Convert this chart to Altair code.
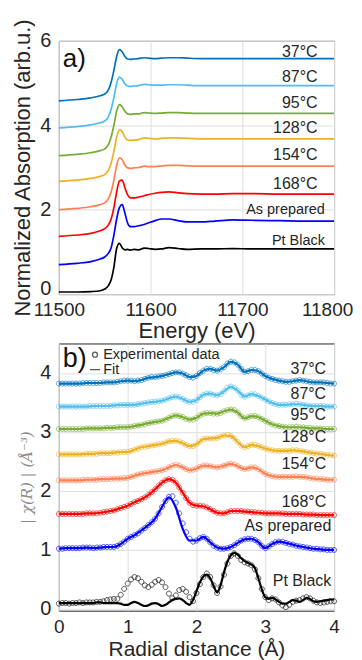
import altair as alt
import pandas as pd

FONT = "Liberation Sans"
INK = "#262626"

series = ["37°C", "87°C", "95°C", "128°C", "154°C", "168°C", "As prepared", "Pt Black"]
colors = ["#0072BD", "#4DBEEE", "#77AC30", "#EDB120", "#FF7F50", "#FF0000", "#0000FF", "#000000"]

# ---------------- panel a : XANES ----------------
energy = [11500, 11520, 11535, 11545, 11550, 11554, 11557, 11560, 11563, 11566,
          11569, 11572, 11575, 11578, 11582, 11587, 11593, 11598, 11605, 11612,
          11620, 11630, 11640, 11655, 11670, 11690, 11710, 11740, 11770, 11800]

xanes_37 = [4.58, 4.61, 4.65, 4.70, 4.74, 4.84, 5.02, 5.30, 5.63, 5.79, 5.74, 5.63, 5.57, 5.56, 5.57,
            5.58, 5.60, 5.59, 5.58, 5.59, 5.60, 5.60, 5.59, 5.58, 5.58, 5.58, 5.58, 5.58, 5.58, 5.58]
xanes_87 = [3.94, 3.97, 4.01, 4.06, 4.10, 4.20, 4.38, 4.66, 4.99, 5.14, 5.09, 4.98, 4.93, 4.92, 4.93,
            4.94, 4.97, 4.96, 4.95, 4.95, 4.96, 4.96, 4.95, 4.94, 4.94, 4.94, 4.94, 4.94, 4.94, 4.94]
xanes_95 = [3.28, 3.31, 3.35, 3.40, 3.44, 3.54, 3.72, 4.00, 4.33, 4.49, 4.44, 4.33, 4.27, 4.26, 4.27,
            4.27, 4.30, 4.29, 4.28, 4.29, 4.30, 4.30, 4.29, 4.28, 4.28, 4.28, 4.28, 4.28, 4.28, 4.28]
xanes_128 = [2.67, 2.70, 2.74, 2.79, 2.83, 2.93, 3.10, 3.38, 3.72, 3.89, 3.85, 3.72, 3.65, 3.64, 3.65,
             3.66, 3.70, 3.69, 3.68, 3.69, 3.70, 3.70, 3.69, 3.68, 3.68, 3.68, 3.68, 3.68, 3.68, 3.68]
xanes_154 = [2.00, 2.03, 2.07, 2.12, 2.16, 2.26, 2.42, 2.70, 3.05, 3.23, 3.19, 3.06, 2.99, 2.98, 2.99,
             3.00, 3.03, 3.02, 3.02, 3.04, 3.05, 3.05, 3.04, 3.03, 3.03, 3.03, 3.03, 3.03, 3.03, 3.03]
xanes_168 = [1.37, 1.40, 1.44, 1.50, 1.55, 1.64, 1.78, 2.05, 2.42, 2.68, 2.70, 2.52, 2.35, 2.28, 2.28,
             2.30, 2.33, 2.36, 2.39, 2.41, 2.42, 2.40, 2.38, 2.37, 2.37, 2.38, 2.38, 2.37, 2.37, 2.37]
xanes_asp = [0.70, 0.73, 0.77, 0.83, 0.88, 0.97, 1.10, 1.40, 1.78, 2.05, 2.12, 1.92, 1.68, 1.60, 1.60,
             1.62, 1.65, 1.69, 1.74, 1.78, 1.78, 1.74, 1.71, 1.71, 1.73, 1.76, 1.75, 1.74, 1.73, 1.73]
xanes_ptb = [0.05, 0.05, 0.06, 0.08, 0.12, 0.20, 0.34, 0.64, 1.08, 1.20, 1.10, 1.05, 1.06, 1.04, 1.06,
             1.05, 1.09, 1.08, 1.06, 1.07, 1.10, 1.08, 1.06, 1.07, 1.07, 1.08, 1.07, 1.07, 1.07, 1.07]

labels_a_y = [5.73, 5.14, 4.53, 3.94, 3.29, 2.61, 1.99, 1.25]
labels_a_x = [11782, 11782, 11782, 11782, 11782, 11782, 11790, 11790]
labels_a_size = [16, 16, 16, 16, 16, 16, 14.5, 14.5]

# ---------------- panel b : |chi(R)| ----------------
r_exp = [round(i * 0.05, 2) for i in range(81)]
r_fit = [round(i * 0.1, 1) for i in range(41)]

exp_37 = [3.82, 3.82, 3.82, 3.82, 3.82, 3.82, 3.82, 3.83, 3.83, 3.83, 3.83, 3.83, 3.83, 3.84, 3.84, 3.84, 3.84,
          3.85, 3.86, 3.87, 3.87, 3.87, 3.86, 3.87, 3.88, 3.90, 3.92, 3.93, 3.93, 3.94, 3.95, 3.96, 3.98, 4.00,
          4.01, 4.01, 3.99, 3.96, 3.93, 3.92, 3.95, 4.00, 4.04, 4.07, 4.07, 4.05, 4.04, 4.06, 4.10, 4.16, 4.19,
          4.18, 4.14, 4.07, 4.02, 4.03, 4.05, 4.05, 4.03, 3.99, 3.95, 3.92, 3.90, 3.88, 3.87, 3.86, 3.85, 3.85,
          3.86, 3.87, 3.88, 3.87, 3.86, 3.85, 3.84, 3.84, 3.84, 3.84, 3.83, 3.82, 3.82]
exp_87 = [3.43, 3.43, 3.43, 3.43, 3.43, 3.43, 3.43, 3.43, 3.43, 3.44, 3.44, 3.44, 3.44, 3.44, 3.44, 3.44, 3.45,
          3.45, 3.46, 3.46, 3.46, 3.46, 3.46, 3.47, 3.48, 3.49, 3.50, 3.51, 3.51, 3.52, 3.53, 3.55, 3.57, 3.59,
          3.60, 3.59, 3.56, 3.53, 3.51, 3.51, 3.54, 3.59, 3.63, 3.65, 3.65, 3.63, 3.62, 3.64, 3.69, 3.75, 3.77,
          3.75, 3.70, 3.63, 3.60, 3.62, 3.64, 3.64, 3.61, 3.58, 3.55, 3.52, 3.49, 3.47, 3.46, 3.46, 3.46, 3.47,
          3.47, 3.48, 3.47, 3.46, 3.45, 3.44, 3.44, 3.44, 3.44, 3.44, 3.43, 3.43, 3.43]
exp_95 = [3.05, 3.05, 3.05, 3.05, 3.05, 3.05, 3.05, 3.05, 3.06, 3.06, 3.06, 3.06, 3.06, 3.06, 3.07, 3.07, 3.07,
          3.08, 3.08, 3.08, 3.08, 3.09, 3.10, 3.11, 3.12, 3.13, 3.15, 3.16, 3.17, 3.18, 3.19, 3.21, 3.24, 3.27,
          3.28, 3.27, 3.25, 3.22, 3.21, 3.21, 3.24, 3.28, 3.31, 3.32, 3.32, 3.31, 3.31, 3.32, 3.35, 3.37, 3.38,
          3.37, 3.33, 3.27, 3.23, 3.25, 3.27, 3.27, 3.25, 3.22, 3.19, 3.16, 3.13, 3.11, 3.10, 3.09, 3.08, 3.08,
          3.08, 3.09, 3.08, 3.08, 3.07, 3.07, 3.06, 3.06, 3.06, 3.05, 3.05, 3.05, 3.05]
exp_128 = [2.62, 2.62, 2.62, 2.62, 2.62, 2.62, 2.62, 2.62, 2.63, 2.63, 2.63, 2.63, 2.64, 2.64, 2.64, 2.64, 2.65,
           2.65, 2.66, 2.66, 2.66, 2.68, 2.70, 2.72, 2.74, 2.75, 2.76, 2.77, 2.78, 2.79, 2.80, 2.82, 2.84, 2.85,
           2.85, 2.84, 2.81, 2.78, 2.76, 2.76, 2.79, 2.84, 2.88, 2.89, 2.89, 2.89, 2.90, 2.92, 2.94, 2.95, 2.93,
           2.89, 2.83, 2.77, 2.74, 2.76, 2.78, 2.78, 2.76, 2.74, 2.72, 2.70, 2.69, 2.68, 2.68, 2.68, 2.68, 2.68,
           2.69, 2.69, 2.68, 2.67, 2.66, 2.65, 2.64, 2.63, 2.63, 2.62, 2.61, 2.61, 2.60]
exp_154 = [2.18, 2.18, 2.18, 2.18, 2.18, 2.18, 2.18, 2.19, 2.19, 2.19, 2.19, 2.19, 2.20, 2.20, 2.20, 2.20, 2.21,
           2.21, 2.21, 2.22, 2.22, 2.24, 2.26, 2.28, 2.29, 2.30, 2.31, 2.32, 2.33, 2.34, 2.35, 2.37, 2.40, 2.43,
           2.44, 2.43, 2.40, 2.37, 2.35, 2.36, 2.38, 2.41, 2.43, 2.43, 2.42, 2.41, 2.40, 2.41, 2.43, 2.45, 2.46,
           2.45, 2.42, 2.39, 2.37, 2.38, 2.40, 2.40, 2.37, 2.33, 2.29, 2.27, 2.25, 2.24, 2.24, 2.24, 2.24, 2.24,
           2.24, 2.25, 2.24, 2.24, 2.23, 2.22, 2.21, 2.21, 2.20, 2.20, 2.19, 2.19, 2.19]
exp_168 = [1.61, 1.61, 1.61, 1.61, 1.61, 1.61, 1.61, 1.61, 1.62, 1.62, 1.62, 1.62, 1.63, 1.64, 1.65, 1.66, 1.67,
           1.69, 1.71, 1.73, 1.75, 1.78, 1.81, 1.83, 1.86, 1.89, 1.93, 1.98, 2.03, 2.09, 2.14, 2.18, 2.20, 2.19,
           2.14, 2.06, 1.97, 1.88, 1.80, 1.76, 1.75, 1.75, 1.74, 1.72, 1.69, 1.66, 1.63, 1.62, 1.62, 1.64, 1.66,
           1.66, 1.66, 1.66, 1.65, 1.65, 1.64, 1.64, 1.63, 1.63, 1.62, 1.62, 1.62, 1.62, 1.62, 1.62, 1.61, 1.61,
           1.61, 1.61, 1.61, 1.60, 1.60, 1.60, 1.60, 1.59, 1.59, 1.59, 1.59, 1.59, 1.59]
exp_asp = [1.02, 1.02, 1.03, 1.03, 1.03, 1.03, 1.03, 1.04, 1.04, 1.04, 1.03, 1.04, 1.04, 1.05, 1.05, 1.05, 1.05,
           1.07, 1.10, 1.14, 1.19, 1.22, 1.25, 1.28, 1.33, 1.37, 1.42, 1.47, 1.53, 1.62, 1.73, 1.83, 1.90, 1.91,
           1.80, 1.62, 1.45, 1.30, 1.19, 1.14, 1.16, 1.20, 1.22, 1.19, 1.13, 1.07, 1.04, 1.02, 1.02, 1.03, 1.05,
           1.08, 1.12, 1.16, 1.18, 1.19, 1.19, 1.17, 1.13, 1.07, 1.03, 1.06, 1.10, 1.13, 1.14, 1.14, 1.12, 1.10,
           1.09, 1.07, 1.06, 1.05, 1.04, 1.03, 1.02, 1.02, 1.01, 1.01, 1.00, 1.00, 1.00]
exp_ptb = [0.09, 0.10, 0.10, 0.09, 0.10, 0.10, 0.11, 0.10, 0.11, 0.11, 0.11, 0.12, 0.12, 0.13, 0.15, 0.16, 0.17,
           0.17, 0.24, 0.34, 0.43, 0.50, 0.54, 0.52, 0.46, 0.40, 0.37, 0.41, 0.46, 0.49, 0.45, 0.37, 0.26, 0.18,
           0.23, 0.32, 0.34, 0.29, 0.20, 0.13, 0.27, 0.42, 0.54, 0.60, 0.54, 0.40, 0.27, 0.38, 0.58, 0.77, 0.90,
           0.94, 0.90, 0.83, 0.79, 0.77, 0.74, 0.67, 0.52, 0.34, 0.20, 0.15, 0.18, 0.16, 0.11, 0.06, 0.03, 0.07,
           0.12, 0.14, 0.15, 0.18, 0.20, 0.18, 0.14, 0.11, 0.10, 0.11, 0.12, 0.13, 0.13]

fit_37 = [3.82, 3.82, 3.82, 3.82, 3.83, 3.83, 3.83, 3.84, 3.84, 3.86, 3.87, 3.86, 3.88, 3.92, 3.93, 3.95, 3.98,
          4.01, 3.99, 3.93, 3.95, 4.04, 4.07, 4.04, 4.10, 4.19, 4.14, 4.02, 4.05, 4.03, 3.95, 3.90, 3.87, 3.85,
          3.86, 3.88, 3.86, 3.84, 3.84, 3.83, 3.82]
fit_87 = [3.43, 3.43, 3.43, 3.43, 3.43, 3.44, 3.44, 3.44, 3.45, 3.46, 3.46, 3.46, 3.48, 3.50, 3.51, 3.53, 3.57,
          3.60, 3.56, 3.51, 3.54, 3.63, 3.65, 3.62, 3.69, 3.77, 3.70, 3.60, 3.64, 3.61, 3.55, 3.49, 3.46, 3.46,
          3.47, 3.47, 3.45, 3.44, 3.44, 3.43, 3.43]
fit_95 = [3.05, 3.05, 3.05, 3.05, 3.06, 3.06, 3.06, 3.07, 3.07, 3.08, 3.08, 3.10, 3.12, 3.15, 3.17, 3.19, 3.24,
          3.28, 3.25, 3.21, 3.24, 3.31, 3.32, 3.31, 3.35, 3.38, 3.33, 3.23, 3.27, 3.25, 3.19, 3.13, 3.10, 3.08,
          3.08, 3.08, 3.07, 3.06, 3.06, 3.05, 3.05]
fit_128 = [2.62, 2.62, 2.62, 2.62, 2.63, 2.63, 2.64, 2.64, 2.65, 2.66, 2.66, 2.70, 2.74, 2.76, 2.78, 2.80, 2.84,
           2.85, 2.81, 2.76, 2.79, 2.88, 2.89, 2.90, 2.94, 2.93, 2.83, 2.74, 2.78, 2.76, 2.72, 2.69, 2.68, 2.68,
           2.69, 2.68, 2.66, 2.64, 2.63, 2.61, 2.60]
fit_154 = [2.18, 2.18, 2.18, 2.18, 2.19, 2.19, 2.20, 2.20, 2.21, 2.21, 2.22, 2.26, 2.29, 2.31, 2.33, 2.35, 2.40,
           2.44, 2.40, 2.35, 2.38, 2.43, 2.42, 2.40, 2.43, 2.46, 2.42, 2.37, 2.40, 2.37, 2.29, 2.25, 2.24, 2.24,
           2.24, 2.24, 2.23, 2.21, 2.20, 2.19, 2.19]
fit_168 = [1.61, 1.61, 1.61, 1.61, 1.62, 1.62, 1.63, 1.65, 1.67, 1.71, 1.75, 1.81, 1.86, 1.93, 2.03, 2.14, 2.20,
           2.14, 1.97, 1.80, 1.75, 1.74, 1.69, 1.63, 1.62, 1.66, 1.66, 1.65, 1.64, 1.63, 1.62, 1.62, 1.62, 1.61,
           1.61, 1.61, 1.60, 1.60, 1.59, 1.59, 1.59]
fit_asp = [1.02, 1.03, 1.03, 1.03, 1.04, 1.03, 1.04, 1.05, 1.05, 1.10, 1.19, 1.25, 1.33, 1.42, 1.53, 1.73, 1.89,
           1.72, 1.36, 1.16, 1.16, 1.22, 1.13, 1.04, 1.02, 1.05, 1.12, 1.18, 1.19, 1.13, 1.03, 1.10, 1.14, 1.12,
           1.09, 1.06, 1.04, 1.02, 1.01, 1.00, 1.00]
fit_ptb = [0.10, 0.10, 0.10, 0.10, 0.10, 0.10, 0.10, 0.10, 0.10, 0.10, 0.10, 0.11, 0.11, 0.10, 0.10, 0.10, 0.10,
           0.10, 0.09, 0.07, 0.07, 0.10, 0.12, 0.10, 0.07, 0.05, 0.06, 0.09, 0.10, 0.08, 0.05, 0.07, 0.11, 0.15,
           0.17, 0.18, 0.15, 0.10, 0.07, 0.15, 0.30, 0.45, 0.55, 0.58, 0.52, 0.39, 0.28, 0.40, 0.62, 0.80, 0.91,
           0.95, 0.92, 0.86, 0.81, 0.78, 0.75, 0.69, 0.52, 0.33, 0.20, 0.17, 0.19, 0.16, 0.12, 0.09, 0.09, 0.12,
           0.15, 0.14, 0.12, 0.15, 0.19, 0.17, 0.13, 0.12, 0.13, 0.14, 0.15, 0.16, 0.16]

labels_b_y = [4.06, 3.65, 3.29, 2.91, 2.45, 1.82, 1.40, 0.48]
labels_b_x = [3.885, 3.885, 3.885, 3.885, 3.885, 3.885, 3.96, 3.96]

legend_kinds = ["Experimental data", "Fit"]

# ---------------- tables ----------------
xanes_all = [xanes_37, xanes_87, xanes_95, xanes_128, xanes_154, xanes_168, xanes_asp, xanes_ptb]
exp_all = [exp_37, exp_87, exp_95, exp_128, exp_154, exp_168, exp_asp, exp_ptb]
fit_all = [fit_37, fit_87, fit_95, fit_128, fit_154, fit_168, fit_asp, fit_ptb]

rows_a = []
for name, vals in zip(series, xanes_all):
    for e, v in zip(energy, vals):
        rows_a.append({"series": name, "E": e, "A": v})
df_a = pd.DataFrame(rows_a)

rows_e, rows_f = [], []
for name, ev, fv in zip(series, exp_all, fit_all):
    for r, v in zip(r_exp, ev):
        rows_e.append({"series": name, "kind": "Experimental data", "R": r, "chi": v})
    rgrid = r_exp if len(fv) == len(r_exp) else r_fit
    for r, v in zip(rgrid, fv):
        rows_f.append({"series": name, "R": r, "chi": v})
df_e = pd.DataFrame(rows_e)
df_f = pd.DataFrame(rows_f)

df_la = pd.DataFrame({"label": series, "x": labels_a_x, "y": labels_a_y, "fs": labels_a_size})
df_lb = pd.DataFrame({"label": series, "x": labels_b_x, "y": labels_b_y})

color = alt.Color("series:N", scale=alt.Scale(domain=series, range=colors), legend=None)

W = 276

# ---------------- panel a chart ----------------
xa = alt.X("E:Q", scale=alt.Scale(domain=[11500, 11800], nice=False, zero=False),
           axis=alt.Axis(values=[11500, 11600, 11700, 11800], format="d", title="Energy (eV)",
                         labelFontSize=19, labelPadding=6, titlePadding=1.5,
                         labelOffset={"condition": {"test": "datum.value >= 11800", "value": -7},
                                      "value": 0}))
ya = alt.Y("A:Q", scale=alt.Scale(domain=[0, 6], nice=False),
           axis=alt.Axis(values=[0, 2, 4, 6], format="d", title="Normalized Absorption (arb.u.)",
                         labelPadding=8, titlePadding=5,
                         labelOffset={"condition": {"test": "datum.value <= 0", "value": -6},
                                      "value": 0}))

lines_a = alt.Chart(df_a).mark_line(strokeWidth=1.7, interpolate="monotone").encode(
    x=xa, y=ya, color=color)
text_a = alt.Chart(df_la).mark_text(align="right", baseline="middle", font=FONT, color=INK).encode(
    x=alt.X("x:Q"), y=alt.Y("y:Q"), text="label:N", size=alt.Size("fs:Q", scale=None))
tag_a = alt.Chart(pd.DataFrame({"t": ["a)"]})).mark_text(
    align="left", baseline="alphabetic", font=FONT, fontSize=26, color="#111111").encode(
    x=alt.value(4), y=alt.value(26), text="t:N")

panel_a = alt.layer(lines_a, text_a, tag_a).properties(width=W, height=254)

# ---------------- panel b chart ----------------
xb = alt.X("R:Q", scale=alt.Scale(domain=[0, 4], nice=False),
           axis=alt.Axis(values=[0, 1, 2, 3, 4], format="d", title="Radial distance (Å)",
                         labelFontSize=19, labelPadding=7, titlePadding=1.5, titleFontSize=21))
yb = alt.Y("chi:Q", scale=alt.Scale(domain=[-0.03, 4.5], nice=False),
           axis=alt.Axis(values=[0, 1, 2, 3, 4], format="d", title="| χ(R) | (Å⁻³)",
                         titleFont="DejaVu Serif", titleFontStyle="italic", titleFontSize=15,
                         titleColor="#8a8a8a", labelPadding=8, titlePadding=5))

circle_path = "M-0.5,0A0.5,0.5,0,1,1,0.5,0A0.5,0.5,0,1,1,-0.5,0Z"
line_path = "M-1,0L1,0"

pts_b = alt.Chart(df_e).mark_point(filled=False, size=100, strokeWidth=0.9, opacity=0.75).encode(
    x=xb, y=yb, color=color,
    shape=alt.Shape("kind:N", scale=alt.Scale(domain=legend_kinds, range=[circle_path, line_path]),
                    legend=alt.Legend(orient="none", legendX=29, legendY=4, title=None,
                                      direction="vertical", labelFont=FONT, labelFontSize=14.5,
                                      labelColor=INK, symbolSize=100, symbolStrokeWidth=1.3,
                                      symbolStrokeColor=INK, symbolFillColor="transparent",
                                      rowPadding=0, padding=0, labelOffset=1)))
lines_b = alt.Chart(df_f).mark_line(strokeWidth=2.2, interpolate="monotone").encode(
    x=alt.X("R:Q"), y=alt.Y("chi:Q"), color=color)
text_b = alt.Chart(df_lb).mark_text(align="right", baseline="middle", font=FONT, fontSize=16,
                                    color=INK).encode(
    x=alt.X("x:Q"), y=alt.Y("y:Q"), text="label:N")
tag_b = alt.Chart(pd.DataFrame({"t": ["b)"]})).mark_text(
    align="left", baseline="alphabetic", font=FONT, fontSize=27, color="#111111").encode(
    x=alt.value(4), y=alt.value(24), text="t:N")

panel_b = alt.layer(pts_b, lines_b, text_b, tag_b).properties(width=W, height=268)

chart = alt.vconcat(panel_a, panel_b, spacing=0.5).resolve_legend(shape="independent").resolve_scale(
    shape="independent"
).properties(
    padding={"left": 3, "top": 8, "right": 0, "bottom": 0},
    background="white",
).configure_view(stroke=INK, strokeWidth=1).configure_axis(
    labelFont=FONT, labelFontSize=20, labelColor=INK, labelFlush=False, labelOverlap=False,
    titleFont=FONT, titleFontSize=22, titleFontWeight="normal", titleColor=INK,
    grid=True, gridColor="#dedede", gridWidth=1, domain=False, ticks=False, tickSize=0
)

chart.save("out.html", embed_options={"renderer": "svg", "actions": False})
